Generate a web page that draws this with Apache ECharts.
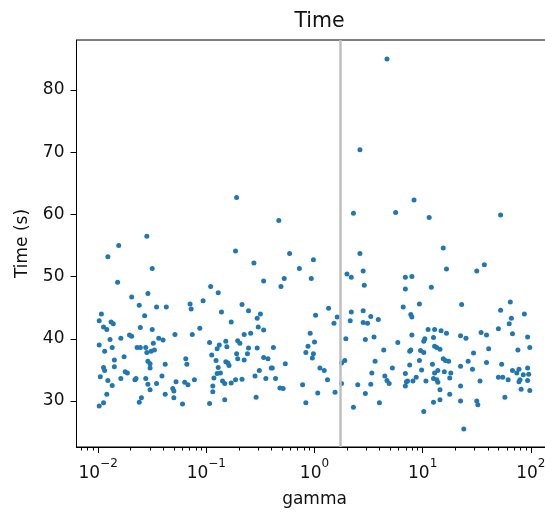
<!DOCTYPE html>
<html>
<head>
<meta charset="utf-8">
<script src="https://cdn.jsdelivr.net/npm/echarts@6/dist/echarts.min.js"></script>
<style>
  html, body { margin: 0; padding: 0; background: #fff; }
  #chart { width: 545px; height: 512px; }
</style>
</head>
<body>
<div id="chart"></div>
<script>
// gamma was swept on a log grid; each run is stored as log10(gamma)
const gammaExp = [
  -1.69,-1.54,-1.62,-1.46,-1.97,-1.57,-1.99,-1.88,-1.86,-1.95,-1.92,-1.61,-1.50,-1.71,-1.69,-1.44,
  -1.89,-1.79,-1.99,-1.87,-1.49,-1.94,-1.64,-1.61,-1.56,-1.55,-1.51,-1.48,-1.76,-1.85,-1.54,-1.52,
  -1.52,-1.95,-1.94,-1.85,-1.75,-1.73,-1.98,-1.91,-1.79,-1.66,-1.65,-1.56,-1.41,-1.87,-1.54,-1.46,
  -1.52,-1.92,-1.60,-1.62,-1.95,-1.99,
  -0.96,-0.89,-1.37,-1.15,-1.14,-1.03,-0.86,-0.77,-1.06,-1.40,-1.29,-1.13,-0.97,-0.88,-0.90,-0.82,
  -0.81,-0.71,-0.95,-1.19,-1.18,-1.38,-0.91,-0.82,-0.80,-0.79,-0.71,-0.72,-0.89,-0.87,-0.90,-1.28,
  -1.20,-1.17,-1.11,-0.93,-0.85,-0.83,-0.77,-0.73,-1.31,-1.30,-0.94,-0.94,-1.38,-1.30,-1.22,-0.97,-0.83,
  -0.31,-0.67,-0.61,-0.50,-0.53,-0.52,-0.47,-0.59,-0.65,-0.69,-0.61,-0.53,-0.38,-0.62,-0.65,-0.47,
  -0.43,-0.27,-0.40,-0.39,-0.51,-0.55,-0.45,-0.36,-0.67,-0.32,-0.29,-0.11,-0.54,-0.08,-0.04,-0.06,
  -0.08,-0.02,
  0.46,0.01,0.13,0.21,0.18,0.34,0.45,0.52,0.59,0.33,0.45,0.49,0.00,0.29,0.47,0.55,0.64,-0.01,
  0.28,0.25,0.56,0.05,0.09,0.53,0.12,0.65,0.67,0.25,0.40,0.52,0.03,0.19,0.47,0.60,0.36,
  0.84,1.08,1.36,0.82,0.97,0.89,0.90,1.05,1.11,1.17,1.22,0.90,1.02,1.01,1.10,1.35,0.77,1.11,1.13,
  1.16,0.89,0.88,0.98,1.01,1.19,1.21,1.24,0.97,1.09,0.88,1.35,0.72,0.99,1.14,1.20,1.26,0.84,1.11,
  1.10,1.13,1.14,0.94,1.03,0.91,0.85,0.86,0.84,1.25,0.69,1.35,1.16,1.25,1.16,1.10,1.35,1.01,
  1.81,1.72,1.94,1.82,1.80,1.70,1.54,1.59,1.83,1.40,1.97,1.61,1.47,1.88,1.99,1.42,1.59,1.73,1.46,
  1.83,1.87,1.89,1.93,1.97,1.98,1.70,1.74,1.79,1.89,1.90,1.97,1.53,1.91,1.99,1.76,1.50,1.51,1.38,
  -0.72,-1.55,-1.81,-1.91,-1.50,-1.82,-0.73,0.67,0.42,0.36,0.75,-0.33,0.42,-0.23,-0.01,-0.56,
  -0.14,0.30,0.34,0.45,-0.47,-0.28,-0.03,0.92,1.06,1.72,1.19,1.22,1.50,1.57,0.84,0.90
];
// wall-clock time of each run, seconds
const timeS = [
  46.7,47.3,45.4,45.1,44.0,43.7,42.9,42.7,42.4,41.9,41.5,41.8,41.5,40.6,40.4,40.1,
  39.9,40.1,39.0,38.6,39.3,38.0,38.6,38.6,38.6,37.8,38.0,38.2,37.1,36.6,36.4,36.0,
  35.3,35.4,34.9,35.5,34.7,34.5,33.9,33.3,33.6,33.4,33.6,33.6,34.0,32.5,32.7,32.8,
  31.8,31.1,30.5,29.8,29.7,29.2,
  48.4,47.4,45.1,45.6,44.8,46.1,44.3,42.7,41.7,39.8,40.7,40.7,39.4,39.0,38.4,39.6,
  38.7,39.7,37.4,36.8,35.9,35.9,36.5,36.3,36.1,35.7,36.8,37.6,35.4,34.5,34.4,33.1,
  33.0,32.6,33.4,33.7,33.2,32.8,32.9,33.4,32.0,31.6,32.4,31.5,31.1,30.5,29.5,29.6,30.2,
  48.4,45.5,44.5,44.0,43.3,41.9,41.4,40.9,40.7,39.3,38.5,38.5,38.6,37.6,36.6,37.0,
  36.8,36.0,35.3,35.3,34.9,34.0,33.6,33.6,33.5,32.1,32.0,32.6,30.6,29.7,40.9,38.8,
  37.8,36.9,
  48.6,43.8,44.9,43.5,42.5,44.3,44.5,43.6,43.1,42.9,42.6,42.5,39.5,40.0,39.9,40.3,38.2,37.6,
  36.5,36.1,36.4,35.3,34.9,34.5,33.4,34.0,33.3,32.8,32.6,32.7,31.3,31.4,31.2,29.7,29.0,
  48.0,48.3,45.5,45.1,45.6,43.9,43.5,41.5,41.5,41.3,40.9,40.6,40.0,39.6,40.2,40.5,39.4,38.8,38.6,
  38.3,38.2,38.0,38.1,37.8,36.8,36.5,36.4,36.5,35.9,35.8,35.6,35.3,35.0,34.9,34.7,34.5,34.4,34.5,
  33.6,33.4,33.0,33.8,33.2,33.2,33.1,33.2,32.4,33.7,32.8,32.4,31.8,31.1,30.2,29.8,30.0,28.3,
  45.9,44.6,44.0,43.3,42.4,41.6,41.0,40.6,40.8,40.1,40.3,38.4,37.7,38.2,38.6,36.4,36.2,35.9,35.1,
  34.9,34.5,35.1,34.2,35.3,34.3,33.8,33.8,33.4,33.1,33.4,33.3,33.2,31.9,31.7,30.6,30.0,29.4,25.5,
  62.7,56.5,55.0,53.2,51.3,49.1,54.1,85.0,70.4,60.2,60.3,59.0,53.7,53.7,52.7,52.2,
  51.3,50.4,49.9,50.9,49.3,49.7,49.7,62.3,59.5,59.9,54.6,51.2,50.9,51.9,49.9,50.0
];
const bestGamma = 1.74;
const xTickValues = [0.01, 0.1, 1, 10, 100];
const xTickExps = ['\u22122', '\u22121', '0', '1', '2'];
const yTickValues = [30, 40, 50, 60, 70, 80];

const xMin = Math.pow(10, -2.2);
const xMax = Math.pow(10, 2.2);
const yMin = 22.6;
const yMax = 88.04;

// minor ticks at 2..9 x each decade
const minorX = [];
for (let e = -3; e <= 2; e++) {
  for (let k = 2; k <= 9; k++) {
    const v = k * Math.pow(10, e);
    if (v > xMin && v < xMax) minorX.push(v);
  }
}

const points = gammaExp.map((e, i) => [Math.pow(10, e), timeS[i]]);

const FONT = 'DejaVu Sans';
const TXT = '#111';
const LABEL_SIZE = 17;
const gridBox = { left: 76.5, top: 40, width: 476, height: 407 };

const chart = echarts.init(document.getElementById('chart'), null, { renderer: 'canvas' });
chart.setOption({
  animation: false,
  backgroundColor: '#fff',
  title: {
    text: 'Time',
    left: 314.5,
    top: 6,
    textAlign: 'center',
    textStyle: { fontFamily: FONT, fontSize: 20.5, fontWeight: 'normal', color: TXT }
  },
  grid: [
    Object.assign({ show: true, borderColor: '#000', borderWidth: 1, outerBoundsMode: 'none', containLabel: false }, gridBox),
    Object.assign({ show: false, outerBoundsMode: 'none', containLabel: false }, gridBox)
  ],
  xAxis: [
    {
      type: 'log', gridIndex: 0, min: xMin, max: xMax, position: 'bottom',
      axisLine: { show: true, lineStyle: { color: '#000', width: 1 } },
      axisTick: { show: true, customValues: xTickValues, length: 6, lineStyle: { color: '#000', width: 1 } },
      axisLabel: {
        show: true, customValues: xTickValues, margin: 11,
        formatter: function (v) {
          const i = xTickValues.findIndex(t => Math.abs(Math.log10(t) - Math.log10(v)) < 1e-6);
          return '{b|10}{s|' + (i >= 0 ? xTickExps[i] : '') + '}';
        },
        rich: {
          b: { fontFamily: FONT, fontSize: LABEL_SIZE, color: TXT, lineHeight: 24, verticalAlign: 'bottom' },
          s: { fontFamily: FONT, fontSize: 12, color: TXT, lineHeight: 10, verticalAlign: 'top' }
        }
      },
      splitLine: { show: false },
      name: 'gamma', nameLocation: 'middle', nameGap: 44,
      nameTextStyle: { fontFamily: FONT, fontSize: LABEL_SIZE, color: TXT }
    },
    {
      type: 'log', gridIndex: 1, min: xMin, max: xMax, position: 'bottom',
      axisLine: { show: false },
      axisTick: { show: true, customValues: minorX, length: 3.5, lineStyle: { color: '#000', width: 1 } },
      axisLabel: { show: false },
      splitLine: { show: false }
    }
  ],
  yAxis: [
    {
      type: 'value', gridIndex: 0, min: yMin, max: yMax,
      axisLine: { show: true, lineStyle: { color: '#000', width: 1 } },
      axisTick: { show: true, customValues: yTickValues, length: 6, lineStyle: { color: '#000', width: 1 } },
      axisLabel: { show: true, customValues: yTickValues, margin: 12, fontFamily: FONT, fontSize: LABEL_SIZE, color: TXT },
      splitLine: { show: false },
      name: 'Time (s)', nameLocation: 'middle', nameGap: 45,
      nameTextStyle: { fontFamily: FONT, fontSize: LABEL_SIZE, color: TXT }
    },
    {
      type: 'value', gridIndex: 1, min: yMin, max: yMax, show: false
    }
  ],
  series: [
    {
      type: 'scatter',
      xAxisIndex: 0, yAxisIndex: 0,
      data: points,
      symbol: 'circle',
      symbolSize: 5,
      itemStyle: { color: '#1f77b4', opacity: 1 },
      emphasis: { disabled: true },
      markLine: {
        silent: true,
        symbol: ['none', 'none'],
        label: { show: false },
        lineStyle: { color: '#bfbfbf', width: 2.5, type: 'solid' },
        data: [{ xAxis: bestGamma }]
      },
      z: 3
    }
  ]
});
</script>
</body>
</html>
